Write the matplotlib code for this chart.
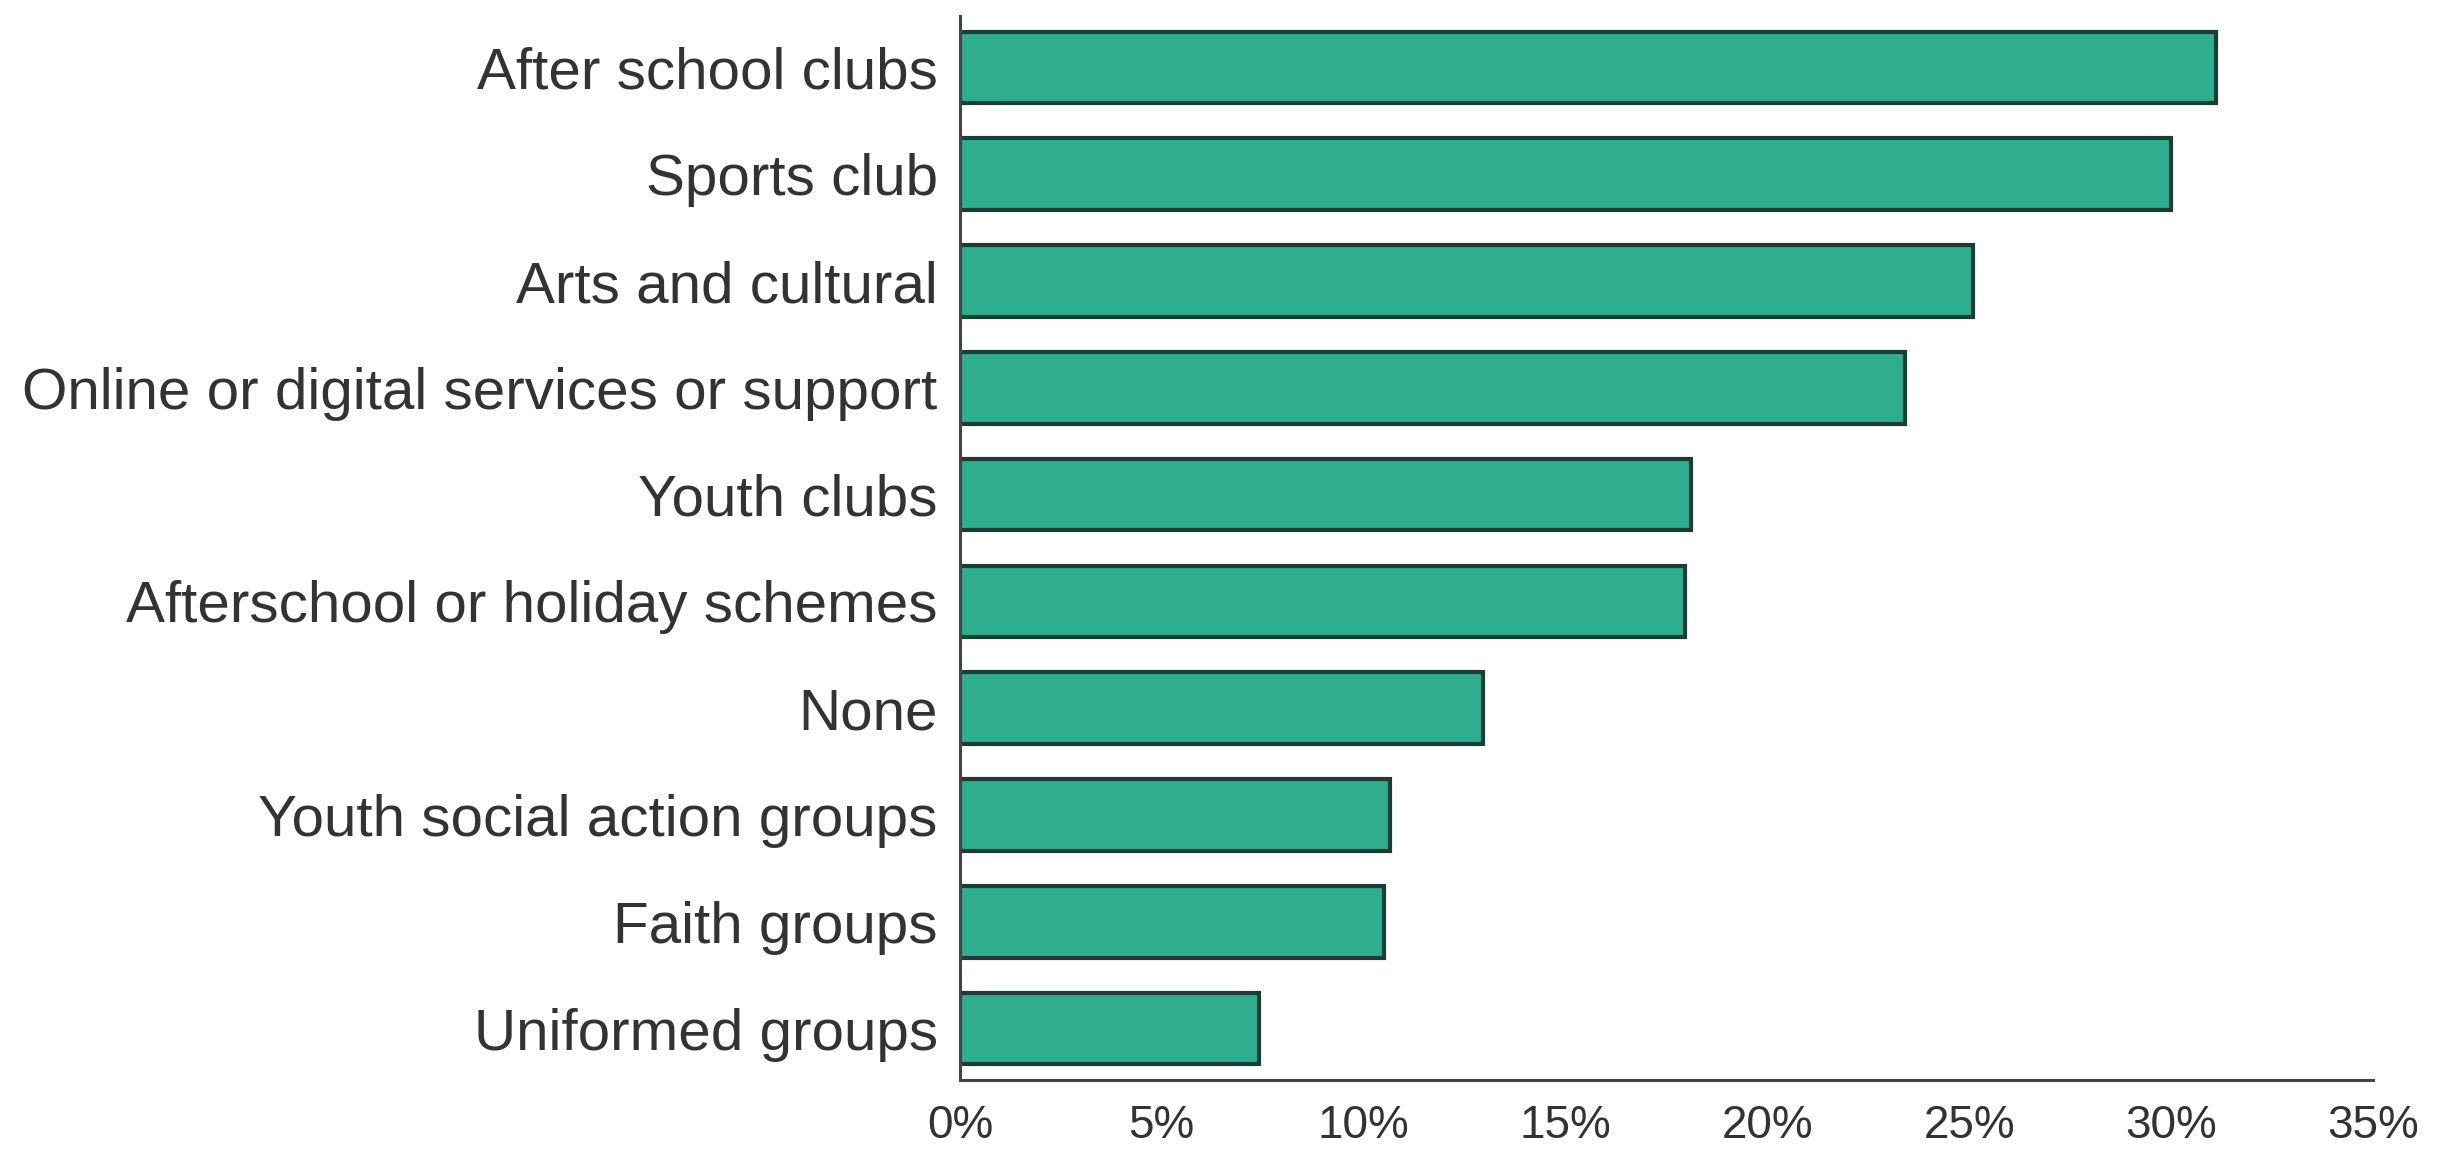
import matplotlib
matplotlib.use("Agg")
import matplotlib.pyplot as plt
from matplotlib import font_manager
import numpy as np

categories = [
    "After school clubs",
    "Sports club",
    "Arts and cultural",
    "Online or digital services or support",
    "Youth clubs",
    "Afterschool or holiday schemes",
    "None",
    "Youth social action groups",
    "Faith groups",
    "Uniformed groups",
]
values = [31.1, 30.0, 25.1, 23.4, 18.1, 17.95, 12.95, 10.65, 10.5, 7.4]
xticks = [0, 5, 10, 15, 20, 25, 30, 35]
xtick_labels = ["0%", "5%", "10%", "15%", "20%", "25%", "30%", "35%"]

plt.rcParams["font.family"] = ["Liberation Sans", "DejaVu Sans"]

# narrow face for the percent labels if it is there
names = {f.name for f in font_manager.fontManager.ttflist}
if "Liberation Sans Narrow" in names:
    tick_font, tick_size = "Liberation Sans Narrow", 41
else:
    tick_font, tick_size = "Liberation Sans", 33

fig = plt.figure(figsize=(24.45, 11.57), dpi=100)
ax = fig.add_axes([0.3926, 0.0666, 0.578, 0.9194])

y = np.arange(len(categories))
ax.barh(y, values, height=0.67, color="#2fae8f", edgecolor="#1b3d33", linewidth=3)

ax.set_ylim(len(categories) - 1 + 0.48, -0.48)
ax.set_xlim(0, 35)
ax.set_yticks(y)
ax.set_yticklabels(categories, fontsize=42)
ax.set_xticks(xticks)
ax.set_xticklabels(xtick_labels, fontsize=tick_size, family=tick_font)
ax.tick_params(axis="both", length=0, labelcolor="#333333")
ax.tick_params(axis="x", pad=17)
ax.tick_params(axis="y", pad=16)

for side in ["top", "right"]:
    ax.spines[side].set_visible(False)
for side in ["left", "bottom"]:
    ax.spines[side].set_color("#444444")
    ax.spines[side].set_linewidth(2.2)

fig.savefig("out.png", dpi=100)
